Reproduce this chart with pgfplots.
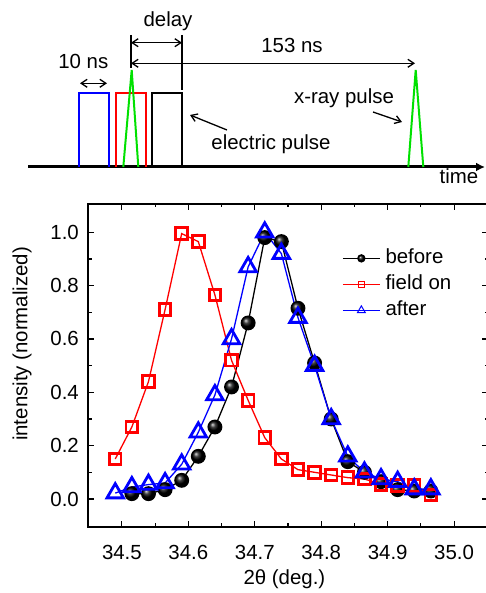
\documentclass[border=0pt]{standalone}
\usepackage{fontspec}
\setmainfont{Liberation Sans}
\usepackage{pgfplots}
\pgfplotsset{compat=1.18}
\usetikzlibrary{arrows.meta}
\definecolor{xgreen}{RGB}{0,225,0}

\begin{document}
\fontsize{20.5}{24}\selectfont
\begin{tikzpicture}[font=\fontsize{20.5}{24}\selectfont]
\path[use as bounding box] (0bp,0bp) rectangle (486bp,593bp);

% timing sketch, drawn in image pixel units (y pointing down)
\begin{axis}[at={(0bp,393bp)}, anchor=south west, width=486bp, height=200bp, scale only axis,
  xmin=0, xmax=486, ymin=0, ymax=200, y dir=reverse, hide axis, clip=false]
\addplot[black, line width=3bp, -{Latex[length=9bp,width=9bp]}] coordinates {(28,167) (485,167)};
\addplot[blue, line width=2bp] coordinates {(79.3,167) (79.3,93.3) (108.7,93.3) (108.7,167)};
\addplot[red, line width=2bp] coordinates {(115.7,167) (115.7,93.3) (145.7,93.3) (145.7,167)};
\addplot[black, line width=2bp] coordinates {(152.3,167) (152.3,93.3) (182,93.3) (182,167)};
\addplot[xgreen, line width=2bp] coordinates {(123.3,167) (131.7,70) (138.3,167)};
\addplot[xgreen, line width=2bp] coordinates {(408.3,167) (415.7,70) (423.3,167)};
\addplot[black, line width=1.3bp] coordinates {(131,35) (131,68)};
\addplot[black, line width=1.3bp] coordinates {(182,35) (182,90)};
\addplot[black, line width=1.3bp, {Straight Barb[length=6bp,width=8bp]}-{Straight Barb[length=6bp,width=8bp]}] coordinates {(80,83.3) (107,83.3)};
\addplot[black, line width=1.3bp, {Straight Barb[length=6bp,width=8bp]}-{Straight Barb[length=6bp,width=8bp]}] coordinates {(131,42.7) (182,42.7)};
\addplot[black, line width=1.3bp, {Straight Barb[length=6bp,width=8bp]}-{Straight Barb[length=6bp,width=8bp]}] coordinates {(131,63.3) (415,63.3)};
\addplot[black, line width=1.3bp, -{Straight Barb[length=6bp,width=8bp]}] coordinates {(373,112) (402,122)};
\addplot[black, line width=1.3bp, -{Straight Barb[length=6bp,width=8bp]}] coordinates {(227,130) (190,115)};
\node[anchor=base, inner sep=0pt] at (axis cs:168,26.5) {delay};
\node[anchor=base, inner sep=0pt] at (axis cs:292,52.7) {153 ns};
\node[anchor=base, inner sep=0pt] at (axis cs:83.3,68.3) {10 ns};
\node[anchor=base, inner sep=0pt] at (axis cs:344,103.3) {x-ray pulse};
\node[anchor=base, inner sep=0pt] at (axis cs:271,150) {electric pulse};
\node[anchor=base, inner sep=0pt] at (axis cs:459,184) {time};
\end{axis}

% diffraction peak
\begin{axis}[at={(88bp,66bp)}, anchor=south west, width=400bp, height=323bp, scale only axis,
  xmin=34.449, xmax=35.051, ymin=-0.105, ymax=1.106,
  xtick={34.5,34.6,34.7,34.8,34.9,35.0}, ytick={0,0.2,0.4,0.6,0.8,1.0},
  minor x tick num=1, minor y tick num=1,
  tick align=inside, major tick length=6bp, minor tick length=3.5bp,
  every tick/.style={black, line width=1.2bp},
  axis line style={line width=1.6bp},
  xticklabel style={inner sep=0pt, yshift=-18bp, /pgf/number format/.cd, fixed, fixed zerofill, precision=1, assume math mode=true},
  yticklabel style={inner sep=0pt, xshift=-9bp, /pgf/number format/.cd, fixed, fixed zerofill, precision=1, assume math mode=true},
  xlabel={2θ (deg.)}, xlabel style={at={(axis description cs:0.491,-0.1765)}, anchor=base, inner sep=0pt},
  ylabel={intensity (normalized)}, ylabel style={at={(axis description cs:-0.165,0.567)}, anchor=center, inner sep=0pt},
  legend image code/.code={\draw[mark repeat=2, mark phase=2] plot coordinates {(0bp,0bp) (18.5bp,0bp) (37bp,0bp)};},
  legend style={draw=none, fill=none, at={(axis description cs:0.635,0.864)}, anchor=north west,
    inner sep=0pt, row sep=5.5bp, column sep=4bp,
    nodes={inner sep=1bp, text height=14.5bp, text depth=4bp}},
  legend cell align=left]
\addlegendimage{black, line width=1.3bp, mark=ball, mark size=3.5bp, mark options={ball color=black}}
\addlegendentry{before}
\addlegendimage{red, line width=1bp, mark=square, mark size=3bp, mark options={line width=1bp}}
\addlegendentry{field on}
\addlegendimage{blue, line width=1bp, mark=triangle, mark size=4.5bp, mark options={line width=1bp}}
\addlegendentry{after}

\addplot[forget plot, black, line width=1.3bp, mark=ball, mark size=6.8bp, mark options={ball color=black}] coordinates {
(34.515,0.02) (34.540,0.02) (34.565,0.035) (34.590,0.07) (34.615,0.16) (34.640,0.27) (34.665,0.42)
(34.690,0.66) (34.715,0.98) (34.740,0.965) (34.765,0.715) (34.790,0.51) (34.815,0.30) (34.840,0.14)
(34.865,0.10) (34.890,0.065) (34.915,0.035) (34.940,0.03) (34.965,0.03)};
\addplot[forget plot, red, line width=1.3bp, mark=square, mark size=5.8bp, mark options={line width=2.8bp}] coordinates {
(34.490,0.15) (34.515,0.27) (34.540,0.44) (34.565,0.71) (34.590,0.995) (34.615,0.965) (34.640,0.765)
(34.665,0.52) (34.690,0.37) (34.715,0.23) (34.740,0.15) (34.765,0.11) (34.790,0.10) (34.815,0.09)
(34.840,0.08) (34.865,0.075) (34.890,0.055) (34.915,0.05) (34.940,0.05) (34.965,0.015)};
\addplot[forget plot, blue, line width=1.3bp, mark=triangle, mark size=9.5bp, mark options={line width=2.8bp}] coordinates {
(34.490,0.022) (34.515,0.045) (34.540,0.054) (34.565,0.06) (34.590,0.13) (34.615,0.25) (34.640,0.39)
(34.665,0.60) (34.690,0.87) (34.715,1.0) (34.740,0.92) (34.765,0.68) (34.790,0.50) (34.815,0.30)
(34.840,0.16) (34.865,0.10) (34.890,0.075) (34.915,0.065) (34.940,0.037) (34.965,0.037)};
\end{axis}
\end{tikzpicture}
\end{document}
